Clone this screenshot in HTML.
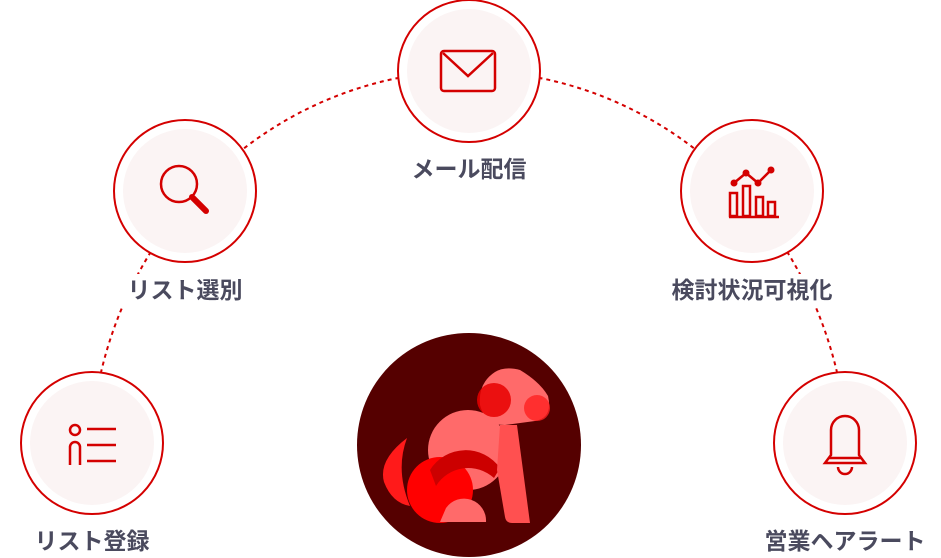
<!DOCTYPE html>
<html><head><meta charset="utf-8"><style>
html,body{margin:0;padding:0;background:#fff;width:941px;height:558px;overflow:hidden}
svg{display:block;position:absolute;left:0;top:0}
text{font-family:"Liberation Sans","Noto Sans CJK JP",sans-serif;font-weight:bold;font-size:23px;fill:#4a4a5e}
</style></head><body>
<svg width="941" height="558" viewBox="0 0 941 558" xmlns="http://www.w3.org/2000/svg">
<ellipse cx="469" cy="467" rx="379" ry="396" fill="none" stroke="#d40000" stroke-width="2" stroke-dasharray="4 4"/>
<rect x="0" y="467" width="941" height="100" fill="#fff"/>
<g fill="#fff">
<rect x="118" y="274" width="134" height="32"/>
<rect x="663" y="274" width="180" height="32"/>
</g>
<g>
<circle cx="92" cy="443" r="71" fill="#fff" stroke="#d40000" stroke-width="2"/>
<circle cx="92" cy="443" r="62" fill="#fbf4f4"/>
<circle cx="185" cy="191" r="71" fill="#fff" stroke="#d40000" stroke-width="2"/>
<circle cx="185" cy="191" r="62" fill="#fbf4f4"/>
<circle cx="469" cy="71" r="71" fill="#fff" stroke="#d40000" stroke-width="2"/>
<circle cx="469" cy="71" r="62" fill="#fbf4f4"/>
<circle cx="752" cy="191" r="71" fill="#fff" stroke="#d40000" stroke-width="2"/>
<circle cx="752" cy="191" r="62" fill="#fbf4f4"/>
<circle cx="845" cy="443" r="71" fill="#fff" stroke="#d40000" stroke-width="2"/>
<circle cx="845" cy="443" r="62" fill="#fbf4f4"/>
</g>
<g fill="none" stroke="#d40000" stroke-width="2.5">
<circle cx="75" cy="430" r="5"/>
<path d="M70 465 V447 a5 5 0 0 1 10 0 V465"/>
<path d="M87 429 H116 M87 445 H116 M87 461 H116"/>
<circle cx="179" cy="184" r="18"/>
<path d="M192 197 L206 211" stroke-width="6" stroke-linecap="round"/>
<rect x="441" y="51" width="54" height="40" rx="3"/>
<path d="M443 53 L468 76 L493 53"/>
<path d="M729 217 H779"/>
<rect x="730" y="193" width="7" height="23"/>
<rect x="743" y="186" width="7" height="30"/>
<rect x="756" y="197" width="7" height="19"/>
<rect x="768" y="202" width="7" height="14"/>
<path d="M734 183 L746 173 L758 183 L771 170"/>
<path d="M825 463 L831 455 V430 a14 14 0 0 1 28 0 V455 L865 463 Z"/>
<path d="M829 458 H861"/>
<path d="M838 467 a7 7 0 0 0 14 0"/>
</g>
<g fill="#d40000"><circle cx="734" cy="183" r="3.5"/><circle cx="746" cy="173" r="3.5"/><circle cx="758" cy="183" r="3.5"/><circle cx="771" cy="170" r="3.5"/></g>
<!-- dog -->
<circle cx="469" cy="445" r="112" fill="#550000"/>
<g>
<path d="M407 438 Q378 460 384 482 Q392 503 410 506 Q395 470 407 438Z" fill="#ff1a1a"/>
<circle cx="468" cy="450" r="40" fill="#ff6a6a"/>
<circle cx="440" cy="490" r="33" fill="#ff0000"/>
<path d="M430 470 A42 42 0 0 1 500 468 L494 478 A38 38 0 0 0 436 486Z" fill="#cc0000"/>
<path d="M500 425 L517 425 L530 523 H512 Q506 523 505 517 L497 470Z" fill="#ff5050"/>
<path d="M495 372 Q505 366 520 370 Q540 382 548 396 Q553 418 535 421 L505 425 Q485 425 480 405 Q478 383 495 372Z" fill="#ff6a6a"/>
<circle cx="494" cy="400" r="17" fill="#e80000" opacity="0.85"/>
<circle cx="537" cy="408" r="13" fill="#ff2020" opacity="0.8"/>
<path d="M440 522 H486 A22 22 0 0 0 446 508Z" fill="#ff6a6a"/>
</g>
<text x="92" y="549" text-anchor="middle">リスト登録</text>
<text x="185" y="298" text-anchor="middle">リスト選別</text>
<text x="469" y="177" text-anchor="middle">メール配信</text>
<text x="752" y="298" text-anchor="middle">検討状況可視化</text>
<text x="845" y="549" text-anchor="middle">営業ヘアラート</text>
</svg>
</body></html>
